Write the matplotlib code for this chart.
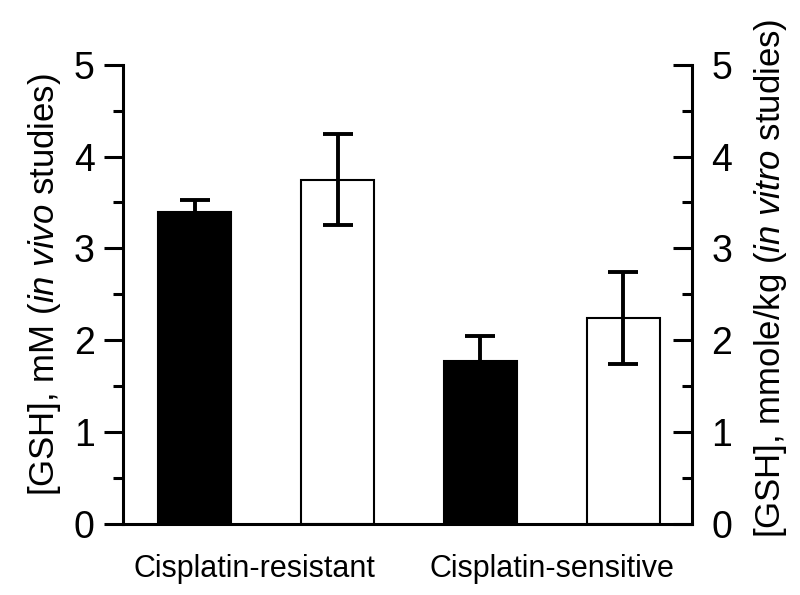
import numpy as np
import matplotlib
matplotlib.use("Agg")
import matplotlib.pyplot as plt
from matplotlib.ticker import MultipleLocator

plt.rcParams['font.family'] = ['Liberation Sans', 'DejaVu Sans']
plt.rcParams['mathtext.fontset'] = 'custom'
plt.rcParams['mathtext.rm'] = 'Liberation Sans'
plt.rcParams['mathtext.it'] = 'Liberation Sans:italic'

categories = ["Cisplatin-resistant", "Cisplatin-sensitive"]
in_vivo = [3.40, 1.77]
in_vivo_err = [0.13, 0.27]
in_vitro = [3.75, 2.24]
in_vitro_err = [0.5, 0.5]

# bar positions: black (in vivo) then white (in vitro) for each group
x_vivo = np.array([0, 2])
x_vitro = np.array([1, 3])
w = 0.51

fig = plt.figure(figsize=(8, 5.95), dpi=100)
ax = fig.add_axes([0.154, 0.12, 0.711, 0.771])

ax.bar(x_vivo, in_vivo, w, color="black", edgecolor="black", linewidth=1.5, zorder=2)
ax.bar(x_vitro, in_vitro, w, color="white", edgecolor="black", linewidth=1.5, zorder=2)
ax.errorbar(x_vivo, in_vivo, yerr=in_vivo_err, fmt="none", ecolor="black",
            elinewidth=2.8, capsize=11, capthick=2.8, zorder=3)
ax.errorbar(x_vitro, in_vitro, yerr=in_vitro_err, fmt="none", ecolor="black",
            elinewidth=2.8, capsize=11, capthick=2.8, zorder=3)

ax.set_xlim(-0.5, 3.48)
ax.set_ylim(0, 5)
ax.yaxis.set_major_locator(MultipleLocator(1))
ax.yaxis.set_minor_locator(MultipleLocator(0.5))
ax.set_xticks([0.42, 2.5])
ax.set_xticklabels(categories, fontsize=22)
ax.tick_params(axis="x", length=0, pad=22)
ax.tick_params(axis="y", which="major", direction="out", length=13.5, width=2.2,
               labelsize=27, pad=7)
ax.tick_params(axis="y", which="minor", direction="out", length=7.5, width=2.2)

for s in ["left", "bottom"]:
    ax.spines[s].set_linewidth(2.2)
ax.spines["top"].set_visible(False)
ax.spines["right"].set_visible(False)

ax.set_ylabel(r"[GSH], mM ($\mathit{in\ vivo}$ studies)", fontsize=25,
              labelpad=8, y=0.52)

ax2 = ax.twinx()
ax2.set_ylim(0, 5)
ax2.yaxis.set_major_locator(MultipleLocator(1))
ax2.yaxis.set_minor_locator(MultipleLocator(0.5))
ax2.tick_params(axis="y", which="major", direction="in", length=13.5, width=2.2,
                labelsize=27, pad=14)
ax2.tick_params(axis="y", which="minor", direction="in", length=7.5, width=2.2)
ax2.spines["right"].set_linewidth(2.2)
for s in ["top", "left", "bottom"]:
    ax2.spines[s].set_visible(False)
ax2.set_ylabel(r"[GSH], mmole/kg ($\mathit{in\ vitro}$ studies)", fontsize=25,
               rotation=90, labelpad=14, y=0.535)

fig.savefig("out.png", dpi=100)
